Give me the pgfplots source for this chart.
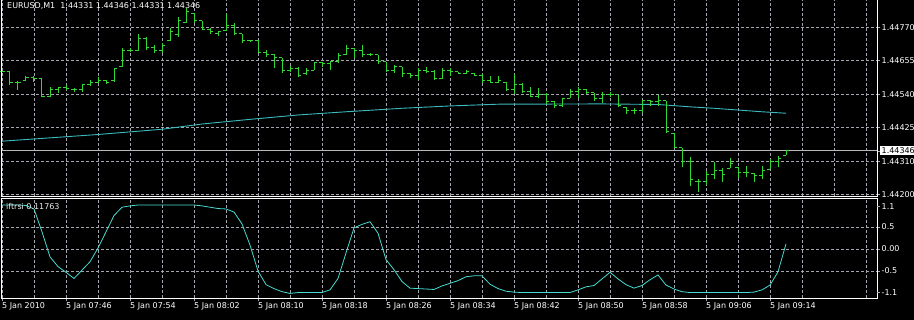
\documentclass[border=0pt]{standalone}
\usepackage{pgfplots}
\pgfplotsset{compat=1.18}
\usepackage{pgfplotstable}
\usepackage{fontspec}
\setmainfont{DejaVu Sans}
\definecolor{barg}{RGB}{50,215,50}
\definecolor{macol}{RGB}{60,185,190}
\definecolor{indcol}{RGB}{70,220,210}
\definecolor{gridc}{RGB}{165,165,175}
\definecolor{pline}{RGB}{185,185,185}
\pgfdeclareplotmark{otick}{\pgfpathmoveto{\pgfqpoint{-\pgfplotmarksize}{0pt}}\pgfpathlineto{\pgfqpoint{0pt}{0pt}}\pgfusepathqstroke}
\pgfdeclareplotmark{ctick}{\pgfpathmoveto{\pgfqpoint{0pt}{0pt}}\pgfpathlineto{\pgfqpoint{\pgfplotmarksize}{0pt}}\pgfusepathqstroke}
\pgfplotsset{every tick label/.append style={font=\fontsize{8}{9.6}\selectfont}}

\pgfplotstableread{
n O H L C
0 1.44617 1.44629 1.44610 1.44618
1 1.44618 1.44620 1.44572 1.44579
2 1.44579 1.44586 1.44555 1.44582
3 1.44586 1.44603 1.44586 1.44596
4 1.44596 1.44603 1.44583 1.44593
5 1.44593 1.44597 1.44530 1.44534
6 1.44534 1.44565 1.44530 1.44555
7 1.44555 1.44565 1.44546 1.44562
8 1.44562 1.44572 1.44555 1.44560
9 1.44558 1.44562 1.44549 1.44555
10 1.44555 1.44575 1.44549 1.44572
11 1.44572 1.44589 1.44569 1.44582
12 1.44582 1.44600 1.44578 1.44587
13 1.44586 1.44589 1.44575 1.44582
14 1.44586 1.44629 1.44583 1.44627
15 1.44634 1.44698 1.44633 1.44692
16 1.44692 1.44698 1.44686 1.44692
17 1.44692 1.44747 1.44690 1.44733
18 1.44733 1.44738 1.44692 1.44699
19 1.44699 1.44709 1.44681 1.44692
20 1.44692 1.44715 1.44683 1.44709
21 1.44726 1.44767 1.44724 1.44757
22 1.44744 1.44806 1.44736 1.44795
23 1.44788 1.44835 1.44784 1.44823
24 1.44818 1.44818 1.44786 1.44792
25 1.44792 1.44793 1.44761 1.44764
26 1.44764 1.44767 1.44747 1.44754
27 1.44750 1.44758 1.44740 1.44754
28 1.44758 1.44816 1.44758 1.44775
29 1.44775 1.44784 1.44744 1.44747
30 1.44747 1.44747 1.44716 1.44723
31 1.44723 1.44726 1.44721 1.44723
32 1.44723 1.44726 1.44683 1.44685
33 1.44685 1.44692 1.44667 1.44675
34 1.44675 1.44677 1.44629 1.44665
35 1.44665 1.44665 1.44614 1.44623
36 1.44623 1.44637 1.44615 1.44630
37 1.44630 1.44632 1.44598 1.44603
38 1.44610 1.44629 1.44606 1.44623
39 1.44623 1.44652 1.44623 1.44648
40 1.44648 1.44652 1.44635 1.44644
41 1.44644 1.44652 1.44623 1.44651
42 1.44651 1.44681 1.44646 1.44672
43 1.44675 1.44709 1.44675 1.44696
44 1.44696 1.44698 1.44664 1.44692
45 1.44692 1.44709 1.44667 1.44678
46 1.44678 1.44683 1.44672 1.44678
47 1.44675 1.44675 1.44644 1.44651
48 1.44651 1.44652 1.44618 1.44620
49 1.44620 1.44639 1.44614 1.44634
50 1.44634 1.44635 1.44598 1.44610
51 1.44610 1.44614 1.44595 1.44603
52 1.44603 1.44629 1.44589 1.44623
53 1.44623 1.44633 1.44612 1.44617
54 1.44617 1.44623 1.44589 1.44593
55 1.44593 1.44629 1.44592 1.44623
56 1.44623 1.44629 1.44603 1.44617
57 1.44617 1.44618 1.44610 1.44613
58 1.44613 1.44623 1.44610 1.44617
59 1.44613 1.44614 1.44603 1.44606
60 1.44606 1.44610 1.44578 1.44589
61 1.44589 1.44603 1.44578 1.44582
62 1.44582 1.44603 1.44578 1.44586
63 1.44579 1.44583 1.44552 1.44555
64 1.44555 1.44610 1.44541 1.44572
65 1.44572 1.44578 1.44546 1.44551
66 1.44551 1.44566 1.44530 1.44534
67 1.44534 1.44561 1.44526 1.44541
68 1.44541 1.44546 1.44507 1.44514
69 1.44514 1.44518 1.44492 1.44500
70 1.44500 1.44526 1.44495 1.44524
71 1.44526 1.44557 1.44526 1.44548
72 1.44548 1.44564 1.44526 1.44555
73 1.44555 1.44557 1.44541 1.44545
74 1.44545 1.44545 1.44517 1.44527
75 1.44527 1.44549 1.44509 1.44538
76 1.44538 1.44549 1.44530 1.44538
77 1.44538 1.44538 1.44495 1.44500
78 1.44495 1.44495 1.44472 1.44483
79 1.44483 1.44492 1.44472 1.44483
80 1.44483 1.44520 1.44477 1.44517
81 1.44517 1.44520 1.44500 1.44514
82 1.44514 1.44538 1.44500 1.44517
83 1.44517 1.44518 1.44408 1.44414
84 1.44407 1.44408 1.44355 1.44359
85 1.44356 1.44356 1.44289 1.44308
86 1.44308 1.44326 1.44225 1.44246
87 1.44239 1.44248 1.44206 1.44242
88 1.44242 1.44278 1.44229 1.44263
89 1.44263 1.44309 1.44248 1.44280
90 1.44280 1.44286 1.44240 1.44263
91 1.44287 1.44320 1.44286 1.44304
92 1.44289 1.44289 1.44252 1.44273
93 1.44273 1.44294 1.44255 1.44270
94 1.44269 1.44269 1.44240 1.44260
95 1.44260 1.44294 1.44248 1.44280
96 1.44283 1.44317 1.44283 1.44308
97 1.44308 1.44328 1.44289 1.44321
98 1.44331 1.44346 1.44331 1.44346
}\ohlc

\pgfplotstableread{
n ma
0 1.44379
12 1.44402
20 1.44420
25 1.44438
31 1.44454
37 1.44469
43 1.44480
50 1.44492
56 1.44500
62 1.44506
75 1.44507
82 1.44505
86 1.44497
89 1.44492
92 1.44486
95 1.44480
98 1.44475
}\matab

\pgfplotstableread{
n v
0 1.00
1 1.00
2 1.00
3 0.99
4 0.91
5 0.39
6 -0.18
7 -0.40
8 -0.53
9 -0.67
10 -0.48
11 -0.29
12 0.02
13 0.39
14 0.76
15 0.95
16 0.98
17 1.00
18 1.00
19 1.00
20 1.00
21 1.00
22 1.00
23 1.00
24 1.00
25 0.98
26 0.95
27 0.92
28 0.91
29 0.84
30 0.57
31 0.09
32 -0.50
33 -0.81
34 -0.90
35 -0.97
36 -1.01
37 -0.99
38 -0.99
39 -0.99
40 -0.99
41 -0.93
42 -0.67
43 -0.09
44 0.48
45 0.56
46 0.62
47 0.36
48 -0.24
49 -0.47
50 -0.74
51 -0.89
52 -0.90
53 -0.91
54 -0.92
55 -0.84
56 -0.78
57 -0.72
58 -0.63
59 -0.61
60 -0.61
61 -0.80
62 -0.90
63 -0.96
64 -0.98
65 -0.99
66 -0.99
67 -0.99
68 -0.99
69 -0.99
70 -0.99
71 -0.99
72 -0.93
73 -0.86
74 -0.83
75 -0.68
76 -0.53
77 -0.68
78 -0.81
79 -0.89
80 -0.83
81 -0.70
82 -0.59
83 -0.82
84 -0.91
85 -0.97
86 -0.99
87 -0.99
88 -0.99
89 -0.99
90 -0.99
91 -0.99
92 -0.99
93 -0.99
94 -0.98
95 -0.93
96 -0.82
97 -0.52
98 0.11763
}\indtab

\begin{document}
\begin{tikzpicture}[font=\fontsize{8}{9.6}\selectfont]
\fill[black] (0,0) rectangle (914pt,-320pt);
\useasboundingbox (0,0) rectangle (914pt,-320pt);

\begin{axis}[name=main, at={(1pt,0pt)}, anchor=north west, scale only axis,
  width=876pt, height=196pt,
  xmin=-0.125, xmax=109.375, ymin=1.441909, ymax=1.448637,
  axis line style={draw=none},
  xtick={0,4,...,108}, xticklabels={}, major x tick style={draw=none},
  ytick={1.44197,1.44310,1.44425,1.44540,1.44655,1.44770},
  yticklabels={1.44200,1.44310,1.44425,1.44540,1.44655,1.44770},
  ytick pos=right, yticklabel pos=right, tick align=outside, major tick length=3pt,
  tick style={gridc, line width=0.6pt},
  yticklabel style={white, inner sep=1.5pt},
  grid=major, grid style={gridc, line width=0.7pt, dash pattern=on 3pt off 2pt},
  extra y ticks={1.44346}, extra y tick labels={\textcolor{black}{1.44346}},
  extra y tick style={grid=none, tick label style={fill=white, inner sep=1pt}},
]
\addplot[macol, line width=0.9pt] table[x=n, y=ma]{\matab};
\addplot[pline, line width=0.7pt] coordinates {(-1,1.44346) (111,1.44346)};
\addplot[draw=none, mark=none, error bars/.cd, y dir=plus, y explicit, error mark=none,
  error bar style={barg, line width=1pt}]
  table[x=n, y=L, y error expr=\thisrow{H}-\thisrow{L}]{\ohlc};
\addplot[barg, line width=1pt, only marks, mark=otick, mark size=3pt] table[x=n, y=O]{\ohlc};
\addplot[barg, line width=1pt, only marks, mark=ctick, mark size=3pt] table[x=n, y=C]{\ohlc};
\end{axis}
\draw[white, line width=0.8pt] (main.north west) -- (main.south west) -- (main.south east) -- (main.north east);
\node[anchor=west, white, inner sep=0pt] at (7pt,-6pt) {EURUSD,M1\ \ 1.44331 1.44346 1.44331 1.44346};

\begin{axis}[name=ind, at={(1pt,-198.5pt)}, anchor=north west, scale only axis,
  width=876pt, height=99.5pt,
  xmin=-0.125, xmax=109.375, ymin=-1.114, ymax=1.148,
  axis line style={white, line width=0.8pt},
  xtick={0,8,...,96}, minor xtick={4,12,...,108},
  xticklabels={5 Jan 2010,5 Jan 07:46,5 Jan 07:54,5 Jan 08:02,5 Jan 08:10,5 Jan 08:18,5 Jan 08:26,5 Jan 08:34,5 Jan 08:42,5 Jan 08:50,5 Jan 08:58,5 Jan 09:06,5 Jan 09:14},
  xticklabel style={anchor=north west, white, inner sep=1pt, xshift=-1pt},
  xtick pos=bottom,
  ytick={-0.5,0,0.5}, yticklabels={-0.5,0.00,0.5},
  extra y ticks={-0.98,0.96}, extra y tick labels={-1.1,1.1}, extra y tick style={grid=none},
  ytick pos=right, yticklabel pos=right, tick align=outside,
  major tick length=3pt, minor tick length=0pt,
  tick style={gridc, line width=0.6pt},
  yticklabel style={white, inner sep=1.5pt},
  grid=both, grid style={gridc, line width=0.7pt, dash pattern=on 3pt off 2pt},
]
\addplot[indcol, line width=0.8pt] table[x=n, y=v]{\indtab};
\end{axis}
\node[anchor=west, white!85!gray, inner sep=0pt] at (6pt,-207pt) {iftrsi 0.11763};
\end{tikzpicture}
\end{document}
